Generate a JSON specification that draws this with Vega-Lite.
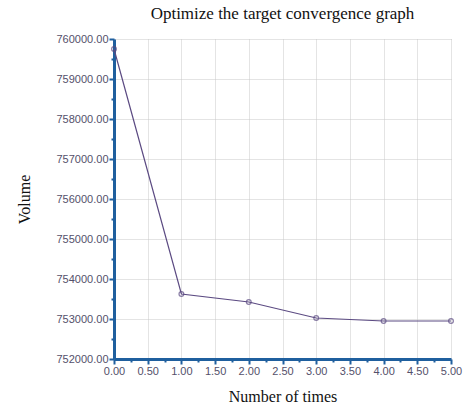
{
  "$schema": "https://vega.github.io/schema/vega-lite/v6.json",
  "autosize": {"type": "none"},
  "width": 337,
  "height": 320,
  "padding": {"left": 114, "top": 39, "right": 15, "bottom": 48},
  "background": "white",
  "title": {
    "text": "Optimize the target convergence graph",
    "font": "Liberation Serif",
    "fontSize": 17,
    "fontWeight": "normal",
    "color": "#111111",
    "offset": 10
  },
  "data": {
    "values": [
      {"n": 0, "v": 759750},
      {"n": 1, "v": 753625},
      {"n": 2, "v": 753425},
      {"n": 3, "v": 753025},
      {"n": 4, "v": 752950},
      {"n": 5, "v": 752950}
    ]
  },
  "config": {
    "view": {"stroke": null},
    "axis": {
      "labelFont": "Liberation Sans",
      "labelFontSize": 11,
      "labelColor": "#54506a",
      "titleFont": "Liberation Serif",
      "titleFontSize": 16,
      "titleFontWeight": "normal",
      "titleColor": "#111111",
      "domainColor": "#1f5f9e",
      "domainWidth": 3,
      "tickColor": "#1f5f9e",
      "tickWidth": 2,
      "gridColor": "#c8c8c8",
      "gridDash": [1, 1],
      "gridWidth": 1
    }
  },
  "layer": [
    {
      "mark": {"type": "line", "color": "#5b4a82", "strokeWidth": 1.2},
      "encoding": {
        "x": {
          "field": "n",
          "type": "quantitative",
          "scale": {"domain": [0, 5], "nice": false, "zero": false},
          "axis": {
            "title": "Number of times",
            "values": [0, 0.25, 0.5, 0.75, 1, 1.25, 1.5, 1.75, 2, 2.25, 2.5, 2.75, 3, 3.25, 3.5, 3.75, 4, 4.25, 4.5, 4.75, 5],
            "tickCount": 50,
            "labelExpr": "(round(datum.value*100) % 50 == 0) ? format(datum.value, '.2f') : ''",
            "labelOverlap": false,
            "tickSize": {"condition": {"test": "round(datum.value*100) % 50 == 0", "value": 5}, "value": 3},
            "gridOpacity": {"condition": {"test": "round(datum.value*100) % 50 == 0", "value": 1}, "value": 0},
            "labelPadding": 1,
            "titlePadding": 12,
            "labelFlush": false
          }
        },
        "y": {
          "field": "v",
          "type": "quantitative",
          "scale": {"domain": [752000, 760000], "nice": false, "zero": false},
          "axis": {
            "title": "Volume",
            "values": [752000, 752500, 753000, 753500, 754000, 754500, 755000, 755500, 756000, 756500, 757000, 757500, 758000, 758500, 759000, 759500, 760000],
            "tickCount": 50,
            "labelExpr": "(datum.value % 1000 == 0) ? format(datum.value, '.2f') : ''",
            "labelOverlap": false,
            "tickSize": {"condition": {"test": "datum.value % 1000 == 0", "value": 5}, "value": 3},
            "gridOpacity": {"condition": {"test": "datum.value % 1000 == 0", "value": 1}, "value": 0},
            "labelPadding": 1,
            "titlePadding": 24,
            "labelFlush": false
          }
        }
      }
    },
    {
      "mark": {"type": "point", "shape": "circle", "filled": false, "color": "#5b4a82", "size": 22, "strokeWidth": 1.3},
      "encoding": {
        "x": {"field": "n", "type": "quantitative"},
        "y": {"field": "v", "type": "quantitative"}
      }
    }
  ]
}
